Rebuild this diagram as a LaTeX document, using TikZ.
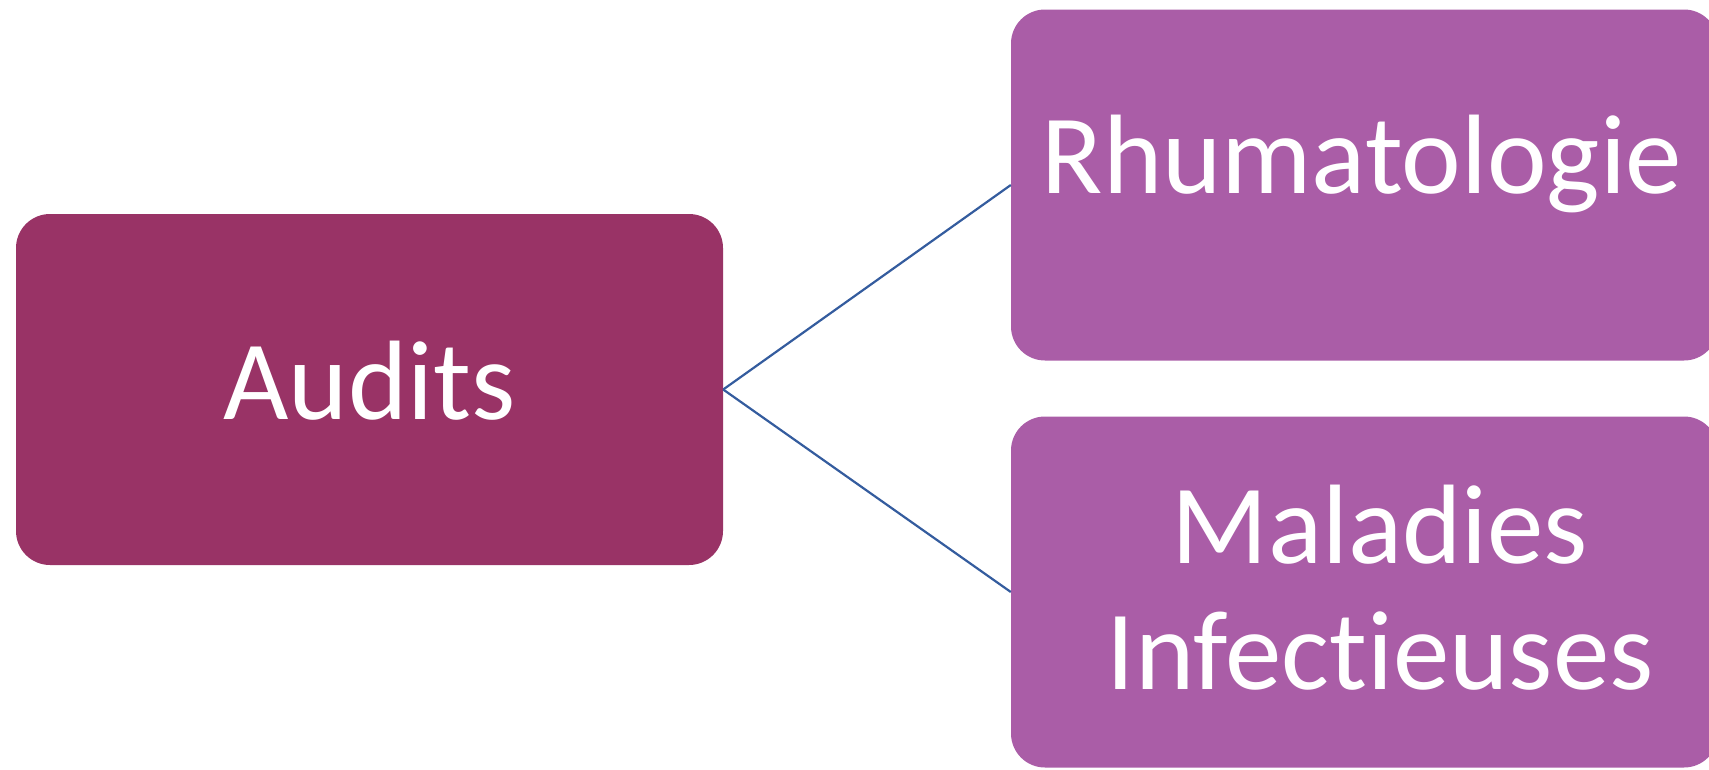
\documentclass[tikz,border=0pt]{standalone}
\usepackage{fontspec}
\setmainfont{Carlito}[Ligatures={NoCommon,NoRare,NoDiscretionary}]
\definecolor{rootc}{RGB}{153,51,102}
\definecolor{leafc}{RGB}{170,93,167}
\definecolor{linkc}{RGB}{52,92,158}
\tikzset{
  box/.style={rectangle, rounded corners=34pt, minimum width=707pt, minimum height=351pt, inner sep=0pt, draw=none},
  rootbox/.style={box, fill=rootc},
  leafbox/.style={box, fill=leafc},
  lbl/.style={anchor=base, text=white, font=\fontsize{113}{126}\selectfont, inner sep=0pt, align=center},
  link/.style={draw=linkc, line width=2.2pt}
}
\begin{document}
\begin{tikzpicture}[x=1pt,y=-1pt]
\useasboundingbox (0,0) rectangle (1709,769);
\clip (0,0) rectangle (1709,769);
\node[rootbox] (audits) at (369.5,389.5) {};
\node[leafbox] (rhum) at (1364.5,185) {};
\node[leafbox] (mal) at (1364.5,592) {};
\node[lbl] (taudits) at (369.5,419) {Audits};
\node[lbl] (trhum) at (1362,193) {Rhumatologie};
\node[lbl] (tmal1) at (1380,563) {Maladies};
\node[lbl] (tmal2) at (1380,689) {Infectieuses};
\draw[link] (audits.east) -- (rhum.west);
\draw[link] (audits.east) -- (mal.west);
\end{tikzpicture}
\end{document}
